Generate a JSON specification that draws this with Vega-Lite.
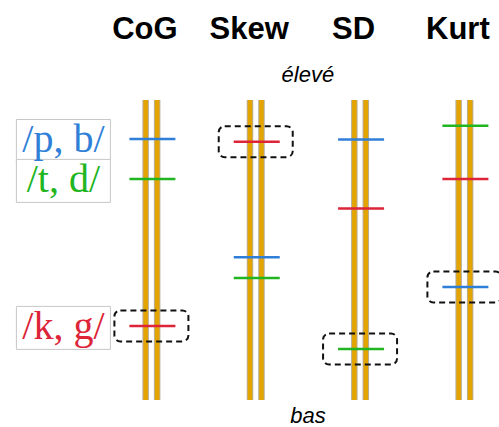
{
  "$schema": "https://vega.github.io/schema/vega-lite/v6.json",
  "width": 499,
  "height": 377,
  "autosize": "none",
  "padding": {"top": 50, "left": 0, "right": 0, "bottom": 0},
  "background": "white",
  "view": {"stroke": null},
  "config": {"axis": {"grid": false}},
  "datasets": {
    "piliers": [
      {"col": "CoG", "side": "g", "min": 0, "max": 100},
      {"col": "CoG", "side": "d", "min": 0, "max": 100},
      {"col": "Skew", "side": "g", "min": 0, "max": 100},
      {"col": "Skew", "side": "d", "min": 0, "max": 100},
      {"col": "SD", "side": "g", "min": 0, "max": 100},
      {"col": "SD", "side": "d", "min": 0, "max": 100},
      {"col": "Kurt", "side": "g", "min": 0, "max": 100},
      {"col": "Kurt", "side": "d", "min": 0, "max": 100}
    ],
    "traits": [
      {"col": "CoG", "classe": "/p, b/", "niveau": 87, "encadre": false},
      {"col": "CoG", "classe": "/t, d/", "niveau": 73.7, "encadre": false},
      {"col": "CoG", "classe": "/k, g/", "niveau": 24.7, "encadre": true},
      {"col": "Skew", "classe": "/k, g/", "niveau": 86.1, "encadre": true},
      {"col": "Skew", "classe": "/p, b/", "niveau": 47.6, "encadre": false},
      {"col": "Skew", "classe": "/t, d/", "niveau": 40.7, "encadre": false},
      {"col": "SD", "classe": "/p, b/", "niveau": 86.8, "encadre": false},
      {"col": "SD", "classe": "/k, g/", "niveau": 63.8, "encadre": false},
      {"col": "SD", "classe": "/t, d/", "niveau": 17, "encadre": true},
      {"col": "Kurt", "classe": "/t, d/", "niveau": 91.4, "encadre": false},
      {"col": "Kurt", "classe": "/k, g/", "niveau": 73.7, "encadre": false},
      {"col": "Kurt", "classe": "/p, b/", "niveau": 37.7, "encadre": true}
    ],
    "reperes": [
      {"texte": "élevé", "niveau": 106},
      {"texte": "bas", "niveau": -7.7}
    ]
  },
  "layer": [
    {
      "data": {"name": "traits"},
      "transform": [{"filter": "datum.col === 'CoG'"}],
      "mark": {"type": "rect", "width": 94, "height": 43, "xOffset": -88, "yOffset": 2, "fill": "white", "stroke": "#c8c8c8", "strokeWidth": 1},
      "encoding": {
        "x": {"field": "col", "type": "nominal", "scale": {"type": "point", "domain": ["CoG", "Skew", "SD", "Kurt"], "range": [151.4, 464.4], "padding": 0}, "axis": {"orient": "top", "title": null, "domain": false, "ticks": false, "tickSize": 0, "labelPadding": 12, "labelBaseline": "alphabetic", "labelOffset": -7, "labelFont": "Liberation Sans", "labelFontWeight": "bold", "labelFontSize": 31, "labelColor": "black", "labelAngle": 0}},
        "y": {"field": "niveau", "type": "quantitative", "scale": {"domain": [-9, 116.667], "nice": false, "zero": false}, "axis": null}
      }
    },
    {
      "data": {"name": "traits"},
      "transform": [{"filter": "datum.col === 'CoG'"}],
      "mark": {"type": "text", "font": "Liberation Serif", "fontSize": 40, "align": "center", "baseline": "alphabetic", "dx": -88, "dy": 13},
      "encoding": {
        "x": {"field": "col", "type": "nominal", "axis": {"orient": "top", "title": null, "domain": false, "ticks": false, "tickSize": 0, "labelPadding": 12, "labelBaseline": "alphabetic", "labelOffset": -7, "labelFont": "Liberation Sans", "labelFontWeight": "bold", "labelFontSize": 31, "labelColor": "black", "labelAngle": 0}},
        "y": {"field": "niveau", "type": "quantitative", "axis": null},
        "text": {"field": "classe"},
        "color": {"field": "classe", "type": "nominal", "scale": {"domain": ["/p, b/", "/t, d/", "/k, g/"], "range": ["#2f7fd8", "#22b522", "#dd2438"]}, "legend": null}
      }
    },
    {
      "data": {"name": "piliers"},
      "transform": [{"filter": "datum.side === 'g'"}],
      "mark": {"type": "rule", "strokeWidth": 6.5, "color": "#b8ad98", "xOffset": -5.75},
      "encoding": {
        "x": {"field": "col", "type": "nominal", "axis": {"orient": "top", "title": null, "domain": false, "ticks": false, "tickSize": 0, "labelPadding": 12, "labelBaseline": "alphabetic", "labelOffset": -7, "labelFont": "Liberation Sans", "labelFontWeight": "bold", "labelFontSize": 31, "labelColor": "black", "labelAngle": 0}},
        "y": {"field": "min", "type": "quantitative", "axis": null},
        "y2": {"field": "max"}
      }
    },
    {
      "data": {"name": "piliers"},
      "transform": [{"filter": "datum.side === 'd'"}],
      "mark": {"type": "rule", "strokeWidth": 6.5, "color": "#b8ad98", "xOffset": 5.75},
      "encoding": {
        "x": {"field": "col", "type": "nominal", "axis": {"orient": "top", "title": null, "domain": false, "ticks": false, "tickSize": 0, "labelPadding": 12, "labelBaseline": "alphabetic", "labelOffset": -7, "labelFont": "Liberation Sans", "labelFontWeight": "bold", "labelFontSize": 31, "labelColor": "black", "labelAngle": 0}},
        "y": {"field": "min", "type": "quantitative", "axis": null},
        "y2": {"field": "max"}
      }
    },
    {
      "data": {"name": "piliers"},
      "transform": [{"filter": "datum.side === 'g'"}],
      "mark": {"type": "rule", "strokeWidth": 4.5, "color": "#e3a400", "xOffset": -5.75},
      "encoding": {
        "x": {"field": "col", "type": "nominal", "axis": {"orient": "top", "title": null, "domain": false, "ticks": false, "tickSize": 0, "labelPadding": 12, "labelBaseline": "alphabetic", "labelOffset": -7, "labelFont": "Liberation Sans", "labelFontWeight": "bold", "labelFontSize": 31, "labelColor": "black", "labelAngle": 0}},
        "y": {"field": "min", "type": "quantitative", "axis": null},
        "y2": {"field": "max"}
      }
    },
    {
      "data": {"name": "piliers"},
      "transform": [{"filter": "datum.side === 'd'"}],
      "mark": {"type": "rule", "strokeWidth": 4.5, "color": "#e3a400", "xOffset": 5.75},
      "encoding": {
        "x": {"field": "col", "type": "nominal", "axis": {"orient": "top", "title": null, "domain": false, "ticks": false, "tickSize": 0, "labelPadding": 12, "labelBaseline": "alphabetic", "labelOffset": -7, "labelFont": "Liberation Sans", "labelFontWeight": "bold", "labelFontSize": 31, "labelColor": "black", "labelAngle": 0}},
        "y": {"field": "min", "type": "quantitative", "axis": null},
        "y2": {"field": "max"}
      }
    },
    {
      "data": {"name": "traits"},
      "mark": {"type": "tick", "orient": "horizontal", "size": 46, "thickness": 2.5, "xOffset": 1, "opacity": 1},
      "encoding": {
        "x": {"field": "col", "type": "nominal", "axis": {"orient": "top", "title": null, "domain": false, "ticks": false, "tickSize": 0, "labelPadding": 12, "labelBaseline": "alphabetic", "labelOffset": -7, "labelFont": "Liberation Sans", "labelFontWeight": "bold", "labelFontSize": 31, "labelColor": "black", "labelAngle": 0}},
        "y": {"field": "niveau", "type": "quantitative", "axis": null},
        "color": {"field": "classe", "type": "nominal", "legend": null}
      }
    },
    {
      "data": {"name": "traits"},
      "transform": [{"filter": "datum.encadre"}],
      "mark": {"type": "rect", "width": 74, "height": 31, "cornerRadius": 6, "filled": false, "stroke": "#111111", "strokeWidth": 2, "strokeDash": [6, 4]},
      "encoding": {
        "x": {"field": "col", "type": "nominal", "axis": {"orient": "top", "title": null, "domain": false, "ticks": false, "tickSize": 0, "labelPadding": 12, "labelBaseline": "alphabetic", "labelOffset": -7, "labelFont": "Liberation Sans", "labelFontWeight": "bold", "labelFontSize": 31, "labelColor": "black", "labelAngle": 0}},
        "y": {"field": "niveau", "type": "quantitative", "axis": null}
      }
    },
    {
      "data": {"name": "reperes"},
      "mark": {"type": "text", "font": "Liberation Sans", "fontStyle": "italic", "fontSize": 22, "align": "center", "baseline": "alphabetic", "color": "black", "x": {"expr": "(scale('x', 'Skew') + scale('x', 'SD')) / 2"}},
      "encoding": {
        "y": {"field": "niveau", "type": "quantitative", "axis": null},
        "text": {"field": "texte"}
      }
    }
  ]
}
